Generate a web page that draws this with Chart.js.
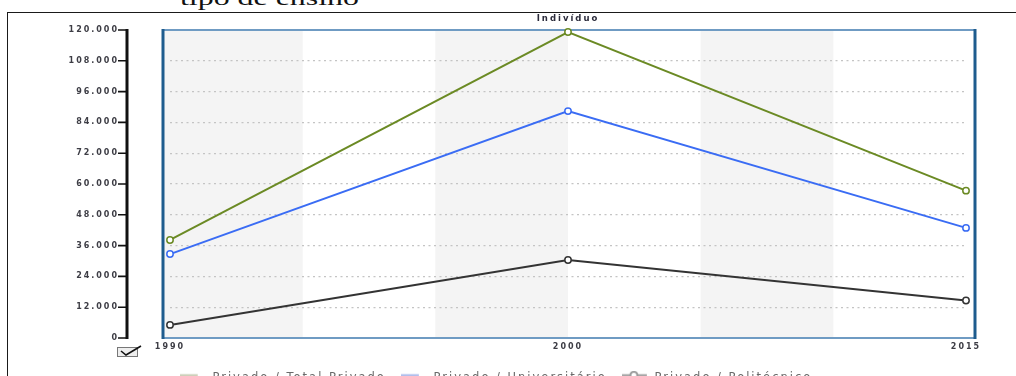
<!DOCTYPE html>
<html><head><meta charset="utf-8">
<script src="https://cdn.jsdelivr.net/npm/chart.js@4"></script>
<style>
html,body{margin:0;padding:0;width:1016px;height:376px;overflow:hidden;background:#fff;}
#doc{position:absolute;left:180px;top:-13px;font-family:'Liberation Serif',serif;font-size:22px;line-height:22px;color:#111;transform:scaleX(1.45);transform-origin:0 0;white-space:nowrap;}
#frame{position:absolute;left:7px;top:12px;width:1030px;height:420px;border-top:1.5px solid #1a1a1a;border-left:1.5px solid #1a1a1a;}
#wrap{position:absolute;left:0;top:0;width:1016px;height:410px;}
#chk{position:absolute;left:117px;top:347px;width:19px;height:8px;border:1px solid #777;background:#eee;}
#chkm{position:absolute;left:116px;top:343px;}
</style></head>
<body>
<div id="doc">tipo de ensino</div>
<div id="frame"></div>
<div id="wrap"><canvas id="c" width="1016" height="410"></canvas></div>
<div id="chk"></div>
<svg id="chkm" width="30" height="16"><polyline points="5,8 10,12 25,3" fill="none" stroke="#111" stroke-width="1.6"/></svg>
<script>
const categories = ['1990', '2000', '2015'];
const seriesNames = ['Privado / Total Privado', 'Privado / Universitário', 'Privado / Politécnico'];
const totalPrivado = [38200, 119200, 57400];
const universitario = [32700, 88400, 42900];
const politecnico = [5100, 30400, 14600];
const yMin = 0, yMax = 120000, yStep = 12000;
const chartTitle = 'Indivíduo';

const FONT = 'DejaVu Sans';
const lineColors = ['#6b8a24', '#3a6cf4', '#333333'];
const legendColors = ['#c6cab0', '#a6b6ea', '#9a9a9a'];

function fmt(v){ return String(v).replace(/\B(?=(\d{3})+(?!\d))/g, '.'); }

// legend marker images
function legendMarker(color, withCircle){
  const cv = document.createElement('canvas');
  cv.width = 27; cv.height = 14;
  const g = cv.getContext('2d');
  g.strokeStyle = color; g.lineWidth = 2;
  const my = 4.5;
  g.beginPath(); g.moveTo(0, my); g.lineTo(withCircle ? 25 : 18, my); g.stroke();
  if (withCircle) { g.fillStyle = '#fff'; g.beginPath(); g.arc(12, my, 3.5, 0, Math.PI * 2); g.fill(); g.stroke(); }
  return cv;
}
const legendMarkers = [legendMarker(legendColors[0], false), legendMarker(legendColors[1], false), legendMarker(legendColors[2], true)];

const spacing = {
  id: 'spacing',
  beforeUpdate(c){ c.ctx.letterSpacing = '2px'; },
  beforeLayout(c){ c.ctx.letterSpacing = '2px'; },
  beforeDraw(c){ c.ctx.letterSpacing = '2px'; }
};

const plotDeco = {
  id: 'plotDeco',
  beforeDraw(c){
    const {ctx, chartArea: a, scales: {x, y}} = c;
    const x0 = a.left - 7, x1 = a.right + 9;
    const p = categories.map((_, i) => x.getPixelForValue(i));
    const b = [x0];
    for (let i = 0; i < p.length - 1; i++) {
      const d = (p[i+1] - p[i]) / 3;
      b.push(p[i] + d, p[i] + 2*d);
      if (i < p.length - 2) b.push(p[i+1]);
    }
    b.push(x1);
    const top = y.getPixelForValue(yMax), bot = y.getPixelForValue(yMin);
    ctx.save();
    ctx.fillStyle = '#f4f4f4';
    for (let i = 0; i < b.length - 1; i += 2) ctx.fillRect(b[i], top, b[i+1] - b[i], bot - top);
    ctx.restore();
  },
  beforeDatasetsDraw(c){
    const {ctx, chartArea: a, scales: {y}} = c;
    const x0 = a.left - 7, x1 = a.right + 9;
    const top = y.getPixelForValue(yMax), bot = y.getPixelForValue(yMin);
    ctx.save();
    ctx.strokeStyle = '#6f9bc3'; ctx.lineWidth = 2;
    ctx.beginPath(); ctx.moveTo(x0, top); ctx.lineTo(x1, top); ctx.moveTo(x0, bot); ctx.lineTo(x1, bot); ctx.stroke();
    ctx.strokeStyle = '#1e5c8e'; ctx.lineWidth = 3;
    ctx.beginPath(); ctx.moveTo(x0, top - 1); ctx.lineTo(x0, bot + 1); ctx.moveTo(x1, top - 1); ctx.lineTo(x1, bot + 1); ctx.stroke();
    ctx.restore();
  },
  afterDraw(c){
    const {ctx, chartArea: a, scales: {y}} = c;
    const ax = a.left - 43;
    ctx.save();
    ctx.strokeStyle = '#111'; ctx.lineWidth = 3;
    ctx.beginPath(); ctx.moveTo(ax, y.getPixelForValue(yMax) - 1); ctx.lineTo(ax, y.getPixelForValue(yMin) + 1); ctx.stroke();
    ctx.lineWidth = 1.6;
    ctx.beginPath();
    y.ticks.forEach(t => { const py = y.getPixelForValue(t.value); ctx.moveTo(ax - 9, py); ctx.lineTo(ax, py); });
    ctx.stroke();
    ctx.restore();
  }
};

const mk = (label, data, i) => ({
  label, data,
  borderColor: lineColors[i], backgroundColor: lineColors[i],
  borderWidth: 2, tension: 0,
  pointRadius: 3.2, pointBackgroundColor: '#fff', pointBorderColor: lineColors[i], pointBorderWidth: 1.5,
  clip: false
});

const chart = new Chart(document.getElementById('c'), {
  type: 'line',
  data: {
    labels: categories,
    datasets: [
      mk(seriesNames[0], totalPrivado, 0),
      mk(seriesNames[1], universitario, 1),
      mk(seriesNames[2], politecnico, 2)
    ]
  },
  plugins: [spacing, plotDeco],
  options: {
    responsive: false, animation: false, devicePixelRatio: 1,
    layout: { padding: { left: 26, right: 50, top: 12, bottom: 16 } },
    scales: {
      x: {
        offset: false,
        grid: { display: false, drawTicks: false },
        border: { display: false },
        ticks: { font: { family: FONT, size: 8, weight: 'bold' }, color: '#3d3d45', padding: 4, maxRotation: 0 },
        afterFit(s){ s.height = 19; }
      },
      y: {
        min: yMin, max: yMax,
        grid: {
          drawTicks: true, tickLength: 51, tickColor: 'rgba(0,0,0,0)', lineWidth: 1.2,
          color: ctx => (ctx.tick && (ctx.tick.value === yMin || ctx.tick.value === yMax)) ? 'rgba(0,0,0,0)' : '#c4c4c4'
        },
        border: { display: false, dash: [2, 3.5] },
        ticks: { stepSize: yStep, font: { family: FONT, size: 8, weight: 'bold' }, color: '#3d3d45', padding: 0, callback: v => fmt(v) },
        afterFit(s){ s.width = 144; }
      }
    },
    plugins: {
      title: { display: true, text: chartTitle, fullSize: false, font: { family: FONT, size: 8.5, weight: 'bold' }, color: '#2a2a3a', padding: { top: 2, bottom: 6 } },
      legend: {
        position: 'bottom',
        labels: {
          font: { family: FONT, size: 11.5 }, color: '#6a6a6a', padding: 15,
          usePointStyle: true, pointStyleWidth: 27,
          generateLabels(chart){
            const items = Chart.defaults.plugins.legend.labels.generateLabels(chart);
            items.forEach((it, i) => {
              it.pointStyle = legendMarkers[i];
              it.strokeStyle = legendColors[i]; it.fillStyle = '#fff'; it.lineWidth = 2; it.fontColor = '#6a6a6a';
            });
            return items;
          }
        }
      },
      tooltip: { enabled: false }
    }
  }
});

// calibrate layout padding so the plot box sits where the reference has it
for (let k = 0; k < 3; k++) {
  const pad = chart.options.layout.padding;
  const dt = chart.chartArea.top - 30, db = chart.chartArea.bottom - 338;
  if (Math.abs(dt) < 0.5 && Math.abs(db) < 0.5) break;
  pad.top = Math.max(0, pad.top - dt);
  pad.bottom = Math.max(0, pad.bottom + db);
  chart.update();
}
</script>
</body></html>
